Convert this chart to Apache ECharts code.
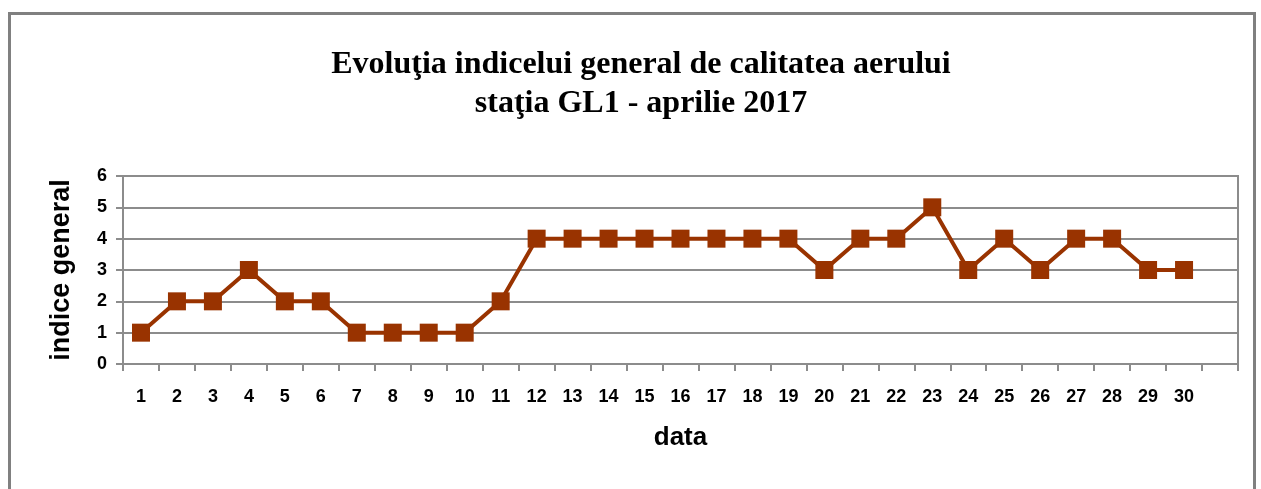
<!DOCTYPE html>
<html>
<head>
<meta charset="utf-8">
<script src="https://cdn.jsdelivr.net/npm/echarts@6/dist/echarts.min.js"></script>
<style>
  html, body { margin: 0; padding: 0; background: #fff; }
  #chart { width: 1261px; height: 489px; }
</style>
</head>
<body>
<div id="chart"></div>
<script>
  // zilele lunii (ultima categorie e goala, ca in original)
  var days = ['1','2','3','4','5','6','7','8','9','10','11','12','13','14','15','16','17','18','19','20','21','22','23','24','25','26','27','28','29','30',''];
  var indice = [1,2,2,3,2,2,1,1,1,1,2,4,4,4,4,4,4,4,4,3,4,4,5,3,4,3,4,4,3,3,null];
  var yTicks = [0, 6, 1]; // min, max, interval

  var myChart = echarts.init(document.getElementById('chart'));
  var option = {
    animation: false,
    backgroundColor: '#fff',
    title: {
      text: 'Evoluţia indicelui general de calitatea aerului\nstaţia GL1 - aprilie 2017',
      left: 636,
      top: 40,
      textAlign: 'center',
      textStyle: {
        fontFamily: '"Liberation Serif", "Times New Roman", serif',
        fontWeight: 'bold',
        fontSize: 32,
        lineHeight: 39,
        color: '#000'
      }
    },
    graphic: [{
      type: 'rect',
      shape: { x: 9.5, y: 13.5, width: 1245, height: 500 },
      style: { fill: null, stroke: '#808080', lineWidth: 3 },
      silent: true
    }],
    grid: {
      left: 123,
      right: 1261 - 1238,
      top: 176,
      bottom: 489 - 364,
      show: true,
      borderColor: '#8c8c8c',
      borderWidth: 2
    },
    xAxis: {
      type: 'category',
      data: days,
      boundaryGap: true,
      name: 'data',
      nameLocation: 'middle',
      nameGap: 61,
      nameTextStyle: {
        fontFamily: '"Liberation Sans", Arial, sans-serif',
        fontWeight: 'bold',
        fontSize: 26,
        color: '#000'
      },
      axisLine: { lineStyle: { color: '#8c8c8c', width: 2 } },
      axisTick: { show: true, inside: false, length: 7, lineStyle: { color: '#8c8c8c', width: 2 } },
      axisLabel: {
        interval: 0,
        margin: 24,
        fontFamily: '"Liberation Sans", Arial, sans-serif',
        fontWeight: 'bold',
        fontSize: 18,
        color: '#000'
      },
      splitLine: { show: false }
    },
    yAxis: {
      type: 'value',
      min: yTicks[0],
      max: yTicks[1],
      interval: yTicks[2],
      name: 'indice general',
      nameLocation: 'middle',
      nameGap: 48,
      nameRotate: 90,
      nameTextStyle: {
        fontFamily: '"Liberation Sans", Arial, sans-serif',
        fontWeight: 'bold',
        fontSize: 27,
        color: '#000'
      },
      axisLine: { show: true, lineStyle: { color: '#8c8c8c', width: 2 } },
      axisTick: { show: true, length: 7, lineStyle: { color: '#8c8c8c', width: 2 } },
      axisLabel: {
        margin: 16,
        fontFamily: '"Liberation Sans", Arial, sans-serif',
        fontWeight: 'bold',
        fontSize: 18,
        color: '#000'
      },
      splitLine: { show: true, lineStyle: { color: '#8c8c8c', width: 2 } }
    },
    series: [{
      name: 'indice general',
      type: 'line',
      data: indice,
      symbol: 'rect',
      symbolSize: 18,
      itemStyle: { color: '#993300' },
      lineStyle: { color: '#993300', width: 4 }
    }]
  };
  myChart.setOption(option);
</script>
</body>
</html>
